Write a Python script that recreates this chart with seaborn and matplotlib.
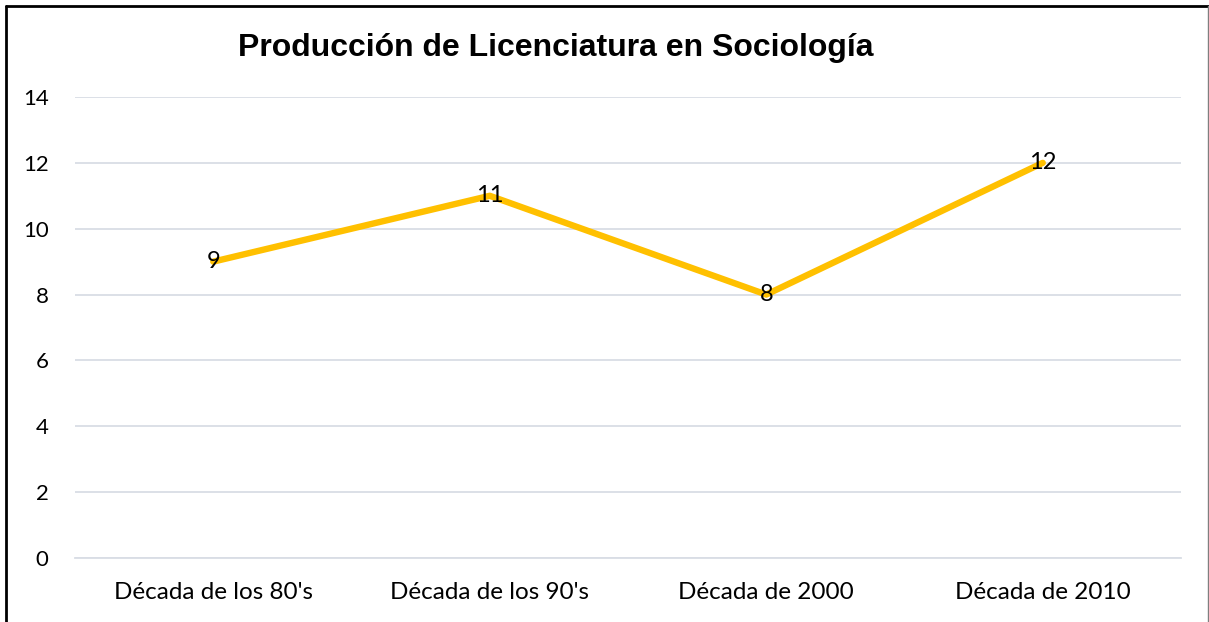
import matplotlib
matplotlib.use("Agg")
import matplotlib.pyplot as plt
import seaborn as sns
import pandas as pd
from matplotlib.lines import Line2D

categories = ["Década de los 80's", "Década de los 90's", "Década de 2000", "Década de 2010"]
values = [9, 11, 8, 12]
yticks = [0, 2, 4, 6, 8, 10, 12, 14]
title = "Producción de Licenciatura en Sociología"

sns.set_theme(style="white")
plt.rcParams['font.family'] = ['Lato', 'DejaVu Sans']

df = pd.DataFrame({"cat": categories, "val": values})

fig = plt.figure(figsize=(12.09, 6.22), dpi=100)
ax = fig.add_axes([75/1209, 1 - 558/622, (1181-75)/1209, (558-97)/622])

sns.lineplot(data=df, x="cat", y="val", ax=ax, color="#FFC000", linewidth=4.6, sort=False)

for i, v in enumerate(values):
    ax.text(i, v, str(v), ha='center', va='center', fontsize=17, color='black')

ax.set_xlim(-0.5, len(categories) - 0.5)
ax.set_ylim(0, 14)
ax.set_yticks(yticks)
ax.set_yticklabels([str(t) for t in yticks], fontsize=16, color='black')
ax.set_xticks(range(len(categories)))
ax.set_xticklabels(categories, fontsize=17.5, color='black')
ax.set_xlabel("")
ax.set_ylabel("")
ax.grid(axis='y', color='#D9DDE5', linewidth=1.3)
ax.grid(axis='x', visible=False)
for s in ['left', 'right', 'top']:
    ax.spines[s].set_visible(False)
ax.spines['bottom'].set_color('#D9DDE5')
ax.spines['bottom'].set_linewidth(1.3)
ax.tick_params(axis='x', which='major', length=0, pad=17)
ax.tick_params(axis='y', length=0, pad=19)
ax.set_xticks([i - 0.5 for i in range(len(categories) + 1)], minor=True)
ax.tick_params(axis='x', which='minor', length=7, color='#D9DDE5', width=1.3, direction='out')

fig.text(556/1209, 1 - 48/622, title, ha='center', va='center', fontsize=23,
         fontweight='bold', family=['Liberation Sans', 'DejaVu Sans'], color='black')

# figure border
fig.add_artist(Line2D([6/1209, 6/1209], [0, 1 - 6/622], transform=fig.transFigure, color='black', linewidth=2))
fig.add_artist(Line2D([6/1209, 1], [1 - 6/622, 1 - 6/622], transform=fig.transFigure, color='black', linewidth=2))
fig.add_artist(Line2D([1208/1209, 1208/1209], [0, 1 - 6/622], transform=fig.transFigure, color='#7F7F7F', linewidth=1))

fig.savefig("out.png", dpi=100, facecolor='white')
